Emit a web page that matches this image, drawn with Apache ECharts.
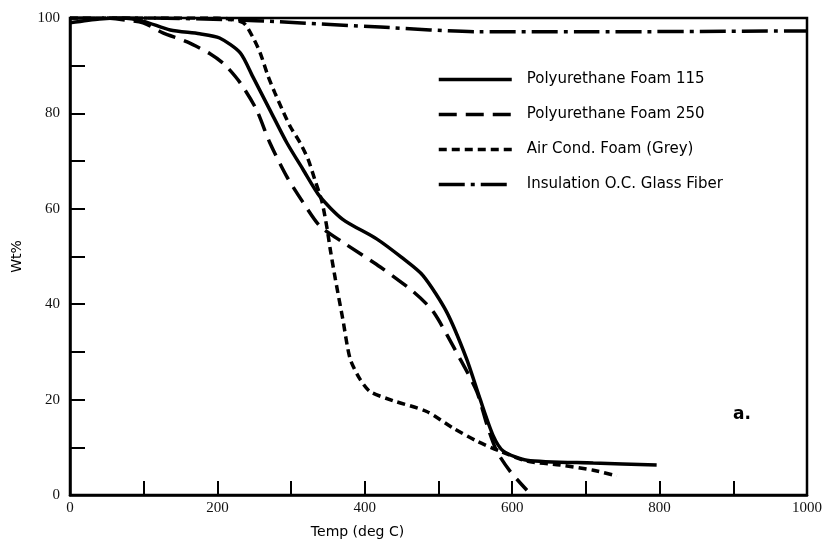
<!DOCTYPE html>
<html>
<head>
<meta charset="utf-8">
<script src="https://cdn.jsdelivr.net/npm/echarts@6/dist/echarts.min.js"></script>
<style>
  html, body { margin: 0; padding: 0; background: #fff; }
  #main { width: 827px; height: 544px; }
</style>
</head>
<body>
<div id="main"></div>
<script>
// temperature (deg C) / weight %
var pu115Temp = [0, 40, 70, 100, 136, 176, 203, 231, 248, 271, 294, 316, 339, 370, 416, 450, 479, 511, 538, 556, 574, 588, 620, 710, 796];
var pu115Wt   = [99, 99.8, 100, 99.3, 97.5, 96.7, 95.8, 92.7, 87.7, 80.8, 73.9, 68.3, 62.6, 57.8, 53.7, 49.8, 46, 38.4, 28.6, 20.3, 12.5, 9.2, 7.3, 6.7, 6.3];

var pu250Temp = [50, 99, 126, 159, 190, 210, 231, 253, 271, 294, 316, 339, 370, 421, 466, 493, 529, 552, 566, 579, 597, 620];
var pu250Wt   = [100, 99, 96.9, 95, 92.5, 90.2, 86.4, 80.8, 73.9, 66.8, 61.4, 56.4, 53, 47.8, 42.6, 38.4, 28.6, 21.7, 14.6, 9.2, 5, 1];

var airTemp = [0, 100, 200, 235, 248, 258, 269, 278, 288, 299, 312, 323, 332, 342, 349, 353, 360, 370, 380, 393, 407, 438, 484, 520, 552, 583, 620, 665, 710, 742];
var airWt   = [100, 100, 100, 99, 96, 92.7, 87.7, 84.3, 80.8, 77.2, 73.9, 70.4, 66.2, 61.4, 55.7, 51.6, 45.3, 37, 28.6, 24.4, 21.7, 19.8, 17.5, 14, 11.3, 9.2, 7.1, 6.3, 5.2, 4];

var glassTemp = [0, 100, 230, 285, 421, 556, 692, 1000];
var glassWt   = [100, 100, 99.6, 99.2, 98.1, 97.1, 97.1, 97.3];

var names = ['Polyurethane Foam 115', 'Polyurethane Foam 250', 'Air Cond. Foam (Grey)', 'Insulation O.C. Glass Fiber'];

function pairs(xs, ys) {
    return xs.map(function (x, i) { return [x, ys[i]]; });
}

function curve(name, xs, ys, dash) {
    return {
        name: name,
        type: 'line',
        data: pairs(xs, ys),
        symbol: 'none',
        smooth: 0.25,
        lineStyle: { color: '#000', width: 3.5, type: dash, cap: 'butt' },
        itemStyle: { color: '#000' }
    };
}

var serif = 'Liberation Serif';
var chart = echarts.init(document.getElementById('main'));

chart.setOption({
    backgroundColor: '#fff',
    animation: false,
    grid: { left: 70, right: 20, top: 18, bottom: 47, show: true, borderColor: '#000', borderWidth: 2.5 },
    legend: {
        orient: 'vertical',
        left: 432,
        top: 67,
        itemWidth: 73,
        itemHeight: 14,
        itemGap: 20,
        data: names,
        itemStyle: { opacity: 0 },
        lineStyle: { width: 3.5 },
        textStyle: { fontFamily: 'DejaVu Sans', fontSize: 15, color: '#000', padding: [0, 0, 0, 10] }
    },
    xAxis: {
        type: 'value',
        min: 0,
        max: 1000,
        interval: 100,
        name: 'Temp (deg C)',
        nameLocation: 'middle',
        nameGap: 30,
        nameTextStyle: { fontFamily: 'DejaVu Sans', fontSize: 14, color: '#000', padding: [0, 162, 0, 0] },
        axisLine: { lineStyle: { color: '#000', width: 2.5 } },
        axisTick: { inside: true, length: 14, lineStyle: { color: '#000', width: 2 } },
        axisLabel: {
            margin: 6,
            fontFamily: serif,
            fontSize: 15,
            color: '#111',
            formatter: function (v) { return v % 200 === 0 ? v : ''; }
        },
        splitLine: { show: false }
    },
    yAxis: {
        type: 'value',
        min: 0,
        max: 100,
        interval: 10,
        name: 'Wt%',
        nameLocation: 'middle',
        nameGap: 46,
        nameTextStyle: { fontFamily: 'DejaVu Sans', fontSize: 14, color: '#000' },
        axisLine: { lineStyle: { color: '#000', width: 2.5 } },
        axisTick: { inside: true, length: 15, lineStyle: { color: '#000', width: 2 } },
        axisLabel: {
            margin: 10,
            fontFamily: serif,
            fontSize: 15,
            color: '#111',
            formatter: function (v) { return v % 20 === 0 ? v : ''; }
        },
        splitLine: { show: false }
    },
    graphic: [{
        type: 'text',
        left: 733,
        top: 406,
        style: { text: 'a.', font: 'bold 17px "DejaVu Sans"', fill: '#000' }
    }],
    series: [
        curve(names[0], pu115Temp, pu115Wt, 'solid'),
        curve(names[1], pu250Temp, pu250Wt, [18, 9]),
        curve(names[2], airTemp, airWt, [8, 5]),
        curve(names[3], glassTemp, glassWt, [26, 6, 4, 6])
    ]
});
</script>
</body>
</html>
